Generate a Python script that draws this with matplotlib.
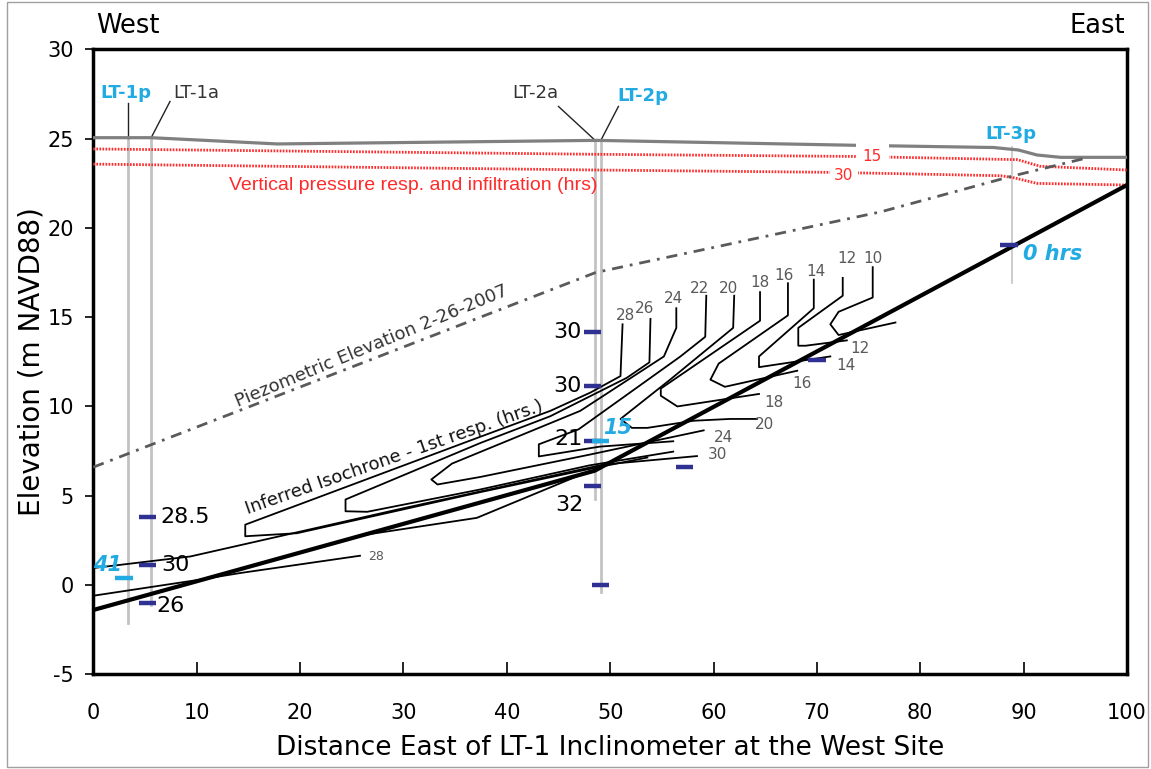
import matplotlib
matplotlib.use("Agg")
import matplotlib.pyplot as plt
from matplotlib.patches import Rectangle

plt.rcParams["axes.unicode_minus"] = False

# ground surface and response lines
ground_x = [0, 5.6, 17.8, 48.7, 74.1, 87.1, 89.5, 91.3, 93.6, 100]
ground_y = [25.05, 25.05, 24.7, 24.9, 24.62, 24.5, 24.36, 24.08, 23.95, 23.95]
red15_x = [0, 48.7, 73.5, 89.4, 91.6, 100]
red15_y = [24.42, 24.12, 24.0, 23.82, 23.45, 23.24]
red30_x = [0, 48.7, 71.3, 87.8, 89.1, 91.3, 100]
red30_y = [23.57, 23.24, 23.11, 22.92, 22.8, 22.49, 22.4]
piezo_x = [0, 48.6, 76.2, 88.9, 96.2]
piezo_y = [6.6, 17.5, 20.9, 22.9, 23.93]
base_x = [0, 48.5, 100]
base_y = [-1.4, 6.4, 22.4]

# wells: name, x, top, bottom
wells = ["LT-1p", "LT-1a", "LT-2a", "LT-2p", "LT-3p"]
well_x = [3.4, 5.6, 48.55, 49.1, 88.9]
well_top = [25.05, 25.05, 24.9, 24.9, 24.55]
well_bot = [-2.1, -1.1, 4.8, -0.4, 16.9]

# inferred isochrones (hrs), traced top end -> tip -> lower end
iso_hrs = [28, 26, 24, 22, 20, 18, 16, 14, 12, 10]
iso_lines = [
    [(51.2, 14.6), (51.0, 11.7), (48.1, 10.78), (44.2, 9.75), (37.43, 8.3), (14.7, 3.38), (14.7, 2.73),
     (19.7, 2.9), (37.43, 5.2), (48.0, 6.5), (53.6, 7.14)],
    [(53.9, 14.9), (53.8, 12.47), (51.6, 11.6), (44.2, 9.45), (37.43, 7.95), (24.4, 4.79), (24.4, 4.13),
     (26.5, 4.1), (37.43, 5.35), (48.0, 6.7), (56.1, 7.47)],
    [(56.4, 15.5), (56.4, 14.4), (55.2, 12.8), (47.1, 9.75), (34.7, 6.8), (32.7, 5.91), (33.3, 5.63),
     (37.43, 6.05), (48.0, 7.3), (59.05, 8.66)],
    [(59.3, 16.2), (59.2, 13.9), (56.8, 12.8), (46.95, 8.72), (43.1, 7.88), (43.1, 7.2), (49.0, 7.75), (56.1, 8.05)],
    [(62.0, 16.2), (61.9, 14.4), (55.8, 11.5), (51.0, 9.3), (52.1, 8.8), (53.6, 8.8), (58.1, 9.2), (61.6, 9.3), (64.2, 9.3)],
    [(64.5, 16.4), (64.5, 14.8), (54.9, 11.0), (54.9, 10.6), (56.5, 10.0), (64.4, 10.7)],
    [(67.2, 16.9), (67.2, 15.1), (60.5, 12.4), (59.7, 11.5), (61.1, 11.1), (68.1, 12.0)],
    [(69.7, 17.1), (69.7, 15.5), (64.4, 12.8), (64.4, 12.2), (71.3, 12.8)],
    [(72.5, 17.2), (72.5, 16.2), (68.2, 14.4), (68.2, 13.4), (68.9, 13.4), (72.9, 13.7)],
    [(75.4, 17.8), (75.4, 16.1), (72.1, 15.3), (71.3, 14.6), (72.1, 14.0), (77.6, 14.7)],
]
iso30_x = [0, 9.4, 30.0, 49.4, 58.4]
iso30_y = [0.95, 1.6, 4.3, 6.75, 7.22]
iso28_x = [0, 10.3, 14.2, 25.8]
iso28_y = [-0.6, 0.3, 0.67, 1.64]
iso32_x = [26.5, 37.1, 48.1]
iso32_y = [2.83, 3.76, 6.4]

# contour labels
top_lab = ["28", "26", "24", "22", "20", "18", "16", "14", "12", "10"]
top_lab_x = [51.46, 53.3, 56.14, 58.66, 61.46, 64.5, 66.85, 69.95, 72.9, 75.43]
top_lab_y = [15.09, 15.47, 16.03, 16.63, 16.63, 16.96, 17.34, 17.56, 18.31, 18.31]
low_lab = ["12", "14", "16", "18", "20", "24", "30"]
low_lab_x = [74.2, 72.85, 68.6, 65.8, 64.9, 61.0, 60.4]
low_lab_y = [13.22, 12.28, 11.31, 10.22, 9.0, 8.26, 7.32]

# piezometer / inclinometer readings
navy_x = [5.25, 5.25, 5.25, 48.3, 48.3, 48.3, 48.3, 49.05, 57.2, 70.0, 88.6]
navy_y = [3.82, 1.14, -1.02, 14.16, 11.16, 8.07, 5.54, -0.02, 6.63, 12.6, 19.06]
cyan_x = [2.97, 49.05]
cyan_y = [0.39, 8.07]
read_lab = ["28.5", "30", "26", "30", "30", "21", "32"]
read_x = [6.5, 6.6, 6.1, 47.2, 47.2, 47.3, 47.4]
read_y = [3.82, 1.14, -1.2, 14.16, 11.16, 8.16, 4.5]
read_ha = ["left", "left", "left", "right", "right", "right", "right"]
hrs_lab = ["41", "15", "0 hrs"]
hrs_x = [1.37, 50.75, 89.9]
hrs_y = [1.14, 8.82, 18.56]
hrs_ha = ["center", "center", "left"]

NAVY = "#2e3192"
CYAN = "#22aae2"
RED = "#ff2a2a"
GRAY = "#595959"

fig = plt.figure(figsize=(11.51, 7.69), dpi=100)
ax = fig.add_axes([93.3 / 1151, 1 - 674.3 / 769, (1127 - 93.3) / 1151, (674.3 - 49.3) / 769])
ax.set_xlim(0, 100)
ax.set_ylim(-5, 30)

# well casings and leaders
for name, x, t, b in zip(wells, well_x, well_top, well_bot):
    lw = 1.2 if name == "LT-3p" else 2
    ax.plot([x, x], [b, t], color="#c3c3c3", lw=lw, zorder=2)
ax.plot([3.4, 3.4], [25.05, 27.0], color="#222222", lw=1, zorder=2)
ax.plot([5.6, 7.42], [25.05, 27.08], color="#222222", lw=1, zorder=2)
ax.plot([48.55, 45.0], [24.9, 26.8], color="#222222", lw=1, zorder=2)
ax.plot([49.1, 50.8], [24.9, 26.8], color="#222222", lw=1, zorder=2)

ax.plot(ground_x, ground_y, color="#808080", lw=2.3, zorder=3)
ax.plot(red15_x, red15_y, color=RED, lw=2, ls=(0, (0.6, 0.5)), zorder=3)
ax.plot(red30_x, red30_y, color=RED, lw=2, ls=(0, (0.6, 0.5)), zorder=3)
ax.plot(piezo_x, piezo_y, color="#5a5a5a", lw=2, dashes=(4, 2.5, 1, 2.5), zorder=3)
ax.plot(base_x, base_y, color="black", lw=3, zorder=4)

for pts in iso_lines:
    ax.plot([p[0] for p in pts], [p[1] for p in pts], color="black", lw=1.3, zorder=4)
ax.plot(iso30_x, iso30_y, color="black", lw=1.3, zorder=4)
ax.plot(iso28_x, iso28_y, color="black", lw=1.3, zorder=4)
ax.plot(iso32_x, iso32_y, color="black", lw=1.3, zorder=4)

for t, x, y in zip(top_lab, top_lab_x, top_lab_y):
    ax.text(x, y, t, color=GRAY, fontsize=11, ha="center", va="center", zorder=5)
for t, x, y in zip(low_lab, low_lab_x, low_lab_y):
    ax.text(x, y, t, color=GRAY, fontsize=11, ha="center", va="center", zorder=5)
ax.text(27.4, 1.6, "28", color=GRAY, fontsize=9, ha="center", va="center", zorder=5)

# reading markers
ax.hlines(navy_y, [x - 0.85 for x in navy_x], [x + 0.85 for x in navy_x], color=NAVY, lw=3.2, zorder=6)
ax.hlines(cyan_y, [x - 0.85 for x in cyan_x], [x + 0.85 for x in cyan_x], color=CYAN, lw=3.2, zorder=6)
for t, x, y, ha in zip(read_lab, read_x, read_y, read_ha):
    ax.text(x, y, t, fontsize=16, ha=ha, va="center", color="black", zorder=6)
for t, x, y, ha in zip(hrs_lab, hrs_x, hrs_y, hrs_ha):
    ax.text(x, y, t, fontsize=15, ha=ha, va="center", color=CYAN,
            fontweight="bold", fontstyle="italic", zorder=6)

# well names
ax.text(3.15, 27.54, "LT-1p", color=CYAN, fontsize=13, fontweight="bold", ha="center", va="center")
ax.text(9.92, 27.54, "LT-1a", color="#333333", fontsize=13, ha="center", va="center")
ax.text(42.76, 27.54, "LT-2a", color="#333333", fontsize=13, ha="center", va="center")
ax.text(53.2, 27.4, "LT-2p", color=CYAN, fontsize=13, fontweight="bold", ha="center", va="center")
ax.text(88.8, 25.26, "LT-3p", color=CYAN, fontsize=13, fontweight="bold", ha="center", va="center")

# line annotations (white box cuts the lines behind, as in the original)
ax.text(75.35, 23.98, "15", color=RED, fontsize=11, ha="center", va="center", zorder=5,
        bbox=dict(fc="white", ec="none", pad=5))
ax.text(72.6, 22.95, "30", color=RED, fontsize=11, ha="center", va="center", zorder=5,
        bbox=dict(fc="white", ec="none", pad=3))
ax.text(31.0, 22.4, "Vertical pressure resp. and infiltration (hrs)", color=RED, fontsize=14,
        ha="center", va="center", family=["Liberation Sans Narrow", "Liberation Sans", "DejaVu Sans"])
ax.text(26.95, 13.36, "Piezometric Elevation 2-26-2007", color="#333333", fontsize=13,
        rotation=22.5, ha="center", va="center", rotation_mode="anchor")
ax.text(29.1, 7.15, "Inferred Isochrone - 1st resp. (hrs.)", color="#111111", fontsize=13,
        rotation=19.3, ha="center", va="center", rotation_mode="anchor")

ax.text(0.3, 31.3, "West", fontsize=18.5, ha="left", va="center", clip_on=False)
ax.text(99.8, 31.3, "East", fontsize=18.5, ha="right", va="center", clip_on=False)

# axes styling
ax.set_xticks(range(0, 101, 10))
ax.set_yticks(range(-5, 31, 5))
ax.tick_params(axis="x", direction="in", length=9, width=1.2, pad=21, labelsize=15)
ax.tick_params(axis="y", direction="out", length=6, width=1.2, pad=8, labelsize=15)
for s in ax.spines.values():
    s.set_linewidth(2.5)
ax.set_xlabel("Distance East of LT-1 Inclinometer at the West Site", fontsize=19, labelpad=8)
ax.set_ylabel("Elevation (m NAVD88)", fontsize=20, labelpad=1)

fig.patches.append(Rectangle((7 / 1151, 2 / 769), (1148 - 7) / 1151, (769 - 4) / 769,
                             transform=fig.transFigure, fill=False, ec="#a0a0a0", lw=1))

fig.savefig("out.png", dpi=100)
